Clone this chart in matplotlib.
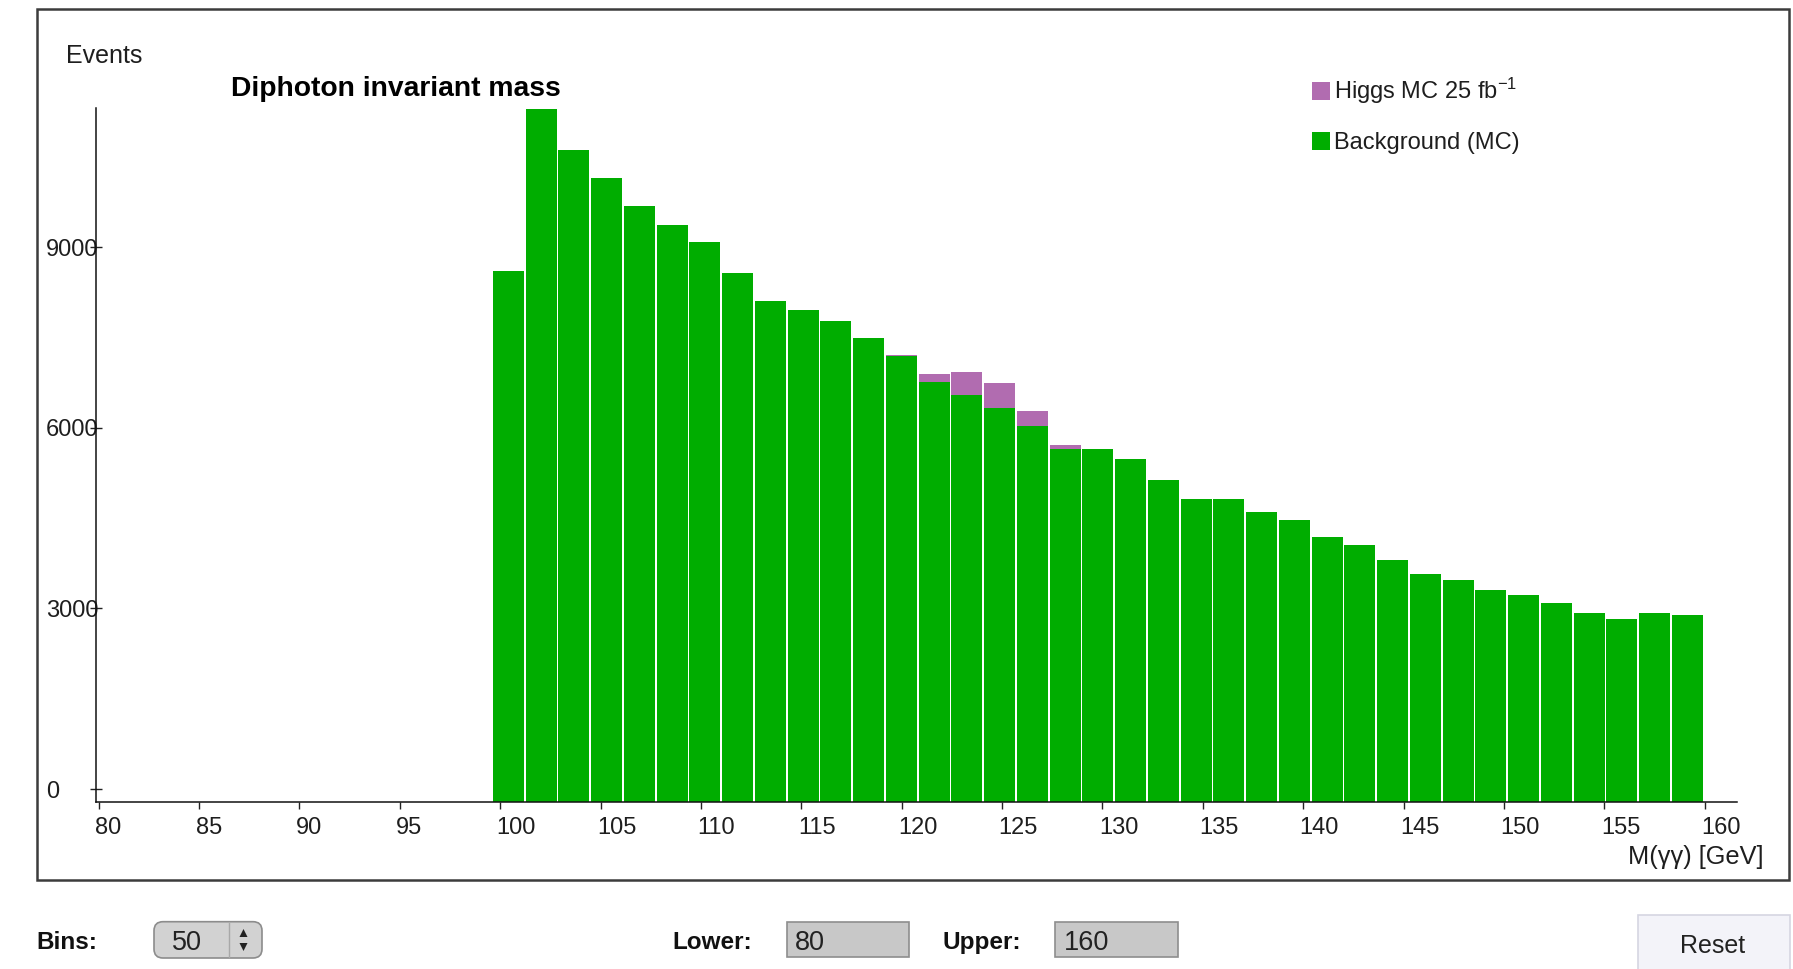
import numpy as np
import matplotlib
matplotlib.use("Agg")
import matplotlib.pyplot as plt
from matplotlib.patches import Rectangle, FancyBboxPatch, Patch, Polygon
from matplotlib.transforms import ScaledTranslation

# ---------------- data ----------------
bin_low, bin_high, n_bins = 99.63, 160.0, 37
background = [8600, 11300, 10614, 10140, 9684, 9361, 9077, 8563, 8108, 7956, 7766, 7481,
              7185, 6763, 6543, 6322, 6028, 5641, 5651, 5488, 5126, 4823, 4823, 4594, 4462,
              4178, 4044, 3797, 3570, 3474, 3305, 3228, 3095, 2924, 2829, 2924, 2886]
higgs = [0] * 12 + [27, 133, 382, 415, 254, 66] + [0] * 19
x_ticks = [80, 85, 90, 95, 100, 105, 110, 115, 120, 125, 130, 135, 140, 145, 150, 155, 160]
y_ticks = [0, 3000, 6000, 9000]
y_tick_labels = ["0", "3000", "6000", "9000"]
legend_labels = ["Higgs MC 25 fb$^{-1}$", "Background (MC)"]
title = "Diphoton invariant mass"
y_title = "Events"
x_title = "M(\u03b3\u03b3) [GeV]"
bins_value, lower_value, upper_value = "50", "80", "160"

GREEN = "#00ad00"
PURPLE = "#b16cb0"
TXT = "#1e1e1e"

plt.rcParams["font.family"] = ["Liberation Sans", "DejaVu Sans"]
plt.rcParams["mathtext.fontset"] = "custom"
plt.rcParams["mathtext.rm"] = "Liberation Sans"
plt.rcParams["mathtext.it"] = "Liberation Sans:italic"
plt.rcParams["mathtext.bf"] = "Liberation Sans:bold"

W, H = 1793, 969
fig = plt.figure(figsize=(W / 100, H / 100), dpi=100)
fig.patch.set_facecolor("white")
T = fig.dpi_scale_trans


def X(px):
    return px / 100.0


def Y(py):
    return (H - py) / 100.0


# outer frame
fig.add_artist(Rectangle((X(37), Y(880)), X(1789 - 37), (880 - 9) / 100.0, transform=T,
                         fill=False, edgecolor="#3c3c3c", linewidth=1.8))

# ---------------- axes ----------------
ax_left, ax_right, ax_top, ax_bottom = 96.4, 1737.0, 108.5, 801.6
ax = fig.add_axes([ax_left / W, 1 - ax_bottom / H, (ax_right - ax_left) / W, (ax_bottom - ax_top) / H])
ax.set_facecolor("none")
y_floor = -209
ax.set_xlim(79.885, 161.61)
ax.set_ylim(y_floor, 11300)

edges = np.linspace(bin_low, bin_high, n_bins + 1)
width = edges[1] - edges[0]
bg = np.array(background, dtype=float)
hg = np.array(higgs, dtype=float)
ax.bar(edges[:-1], bg - y_floor, bottom=y_floor, width=width - 0.085, align="edge",
       color=GREEN, linewidth=0, zorder=1)
ax.bar(edges[:-1], hg, bottom=bg, width=width - 0.085, align="edge",
       color=PURPLE, linewidth=0, zorder=1)

for s in ["top", "right"]:
    ax.spines[s].set_visible(False)
for s in ["left", "bottom"]:
    ax.spines[s].set_linewidth(1.1)
    ax.spines[s].set_color("#111111")

ax.set_xticks(x_ticks)
ax.set_xticklabels([str(v) for v in x_ticks])
ax.set_yticks(y_ticks)
ax.set_yticklabels(y_tick_labels)
ax.tick_params(axis="x", direction="out", length=5, width=1.0, color="#222222",
               labelsize=17, labelcolor=TXT, pad=6.0)
ax.tick_params(axis="y", direction="inout", length=9, width=1.0, color="#222222",
               labelsize=17, labelcolor=TXT, pad=32)
shift = ScaledTranslation(-3.5 / 100.0, 0, fig.dpi_scale_trans)
for t in ax.get_xticklabels():
    t.set_ha("left")
    t.set_transform(t.get_transform() + shift)
for t in ax.get_yticklabels():
    t.set_ha("left")

# legend
handles = [Patch(facecolor=PURPLE, edgecolor="none"), Patch(facecolor=GREEN, edgecolor="none")]
leg = ax.legend(handles, legend_labels, loc="upper left", bbox_to_anchor=(X(1311.6), Y(76)),
                bbox_transform=T, frameon=False, fontsize=17, handlelength=0.76,
                handleheight=0.76, handletextpad=0.2, labelspacing=1.1, borderpad=0,
                borderaxespad=0)
for t in leg.get_texts():
    t.set_color(TXT)

# titles
fig.text(X(66), Y(62.9), y_title, fontsize=18, color=TXT, ha="left", va="baseline", transform=T)
fig.text(X(231), Y(96), title, fontsize=20.3, fontweight="bold", color="#000000",
         ha="left", va="baseline", transform=T)
fig.text(X(1763), Y(864), x_title, fontsize=18.3, color=TXT, ha="right", va="baseline", transform=T)

# ---------------- controls below ----------------
for label, xl in [("Bins:", 36.6), ("Lower:", 672), ("Upper:", 942)]:
    fig.text(X(xl), Y(949), label, fontsize=17.5, fontweight="bold", color="#111111",
             ha="left", va="baseline", transform=T)

# spin box
fig.add_artist(FancyBboxPatch((X(154), Y(958)), X(262 - 154), (958 - 921.7) / 100.0,
                              boxstyle="round,pad=0,rounding_size=0.09", transform=T,
                              facecolor="#d2d2d2", edgecolor="#8c8c8c", linewidth=1.2))
fig.add_artist(plt.Line2D([X(228.7), X(228.7)], [Y(923), Y(957)], transform=T,
                          color="#a8a8a8", linewidth=1.0))
fig.add_artist(Polygon([(X(239.5), Y(937)), (X(247.5), Y(937)), (X(243.5), Y(929))],
                       closed=True, transform=T, facecolor="#222222", edgecolor="none"))
fig.add_artist(Polygon([(X(239.5), Y(943)), (X(247.5), Y(943)), (X(243.5), Y(951))],
                       closed=True, transform=T, facecolor="#222222", edgecolor="none"))
fig.text(X(171.5), Y(950.5), bins_value, fontsize=19.5, color="#222222", ha="left",
         va="baseline", transform=T)

# text boxes
for xl, xr, val in [(786.7, 909, lower_value), (1055, 1178, upper_value)]:
    fig.add_artist(Rectangle((X(xl), Y(957)), X(xr - xl), (957 - 921.7) / 100.0, transform=T,
                             facecolor="#c8c8c8", edgecolor="#8e8e8e", linewidth=1.2))
    fig.text(X(xl + 8.5), Y(950.5), val, fontsize=19.5, color="#222222", ha="left",
             va="baseline", transform=T)

# reset button
fig.add_artist(Rectangle((X(1637.5), Y(975)), X(1790 - 1637.5), (975 - 915) / 100.0,
                         transform=T, facecolor="#f3f3f9", edgecolor="#d6d6e2", linewidth=1.2))
fig.text(X(1713), Y(953), "Reset", fontsize=18, color="#222222", ha="center",
         va="baseline", transform=T)

fig.savefig("out.png", dpi=100, facecolor="white")
